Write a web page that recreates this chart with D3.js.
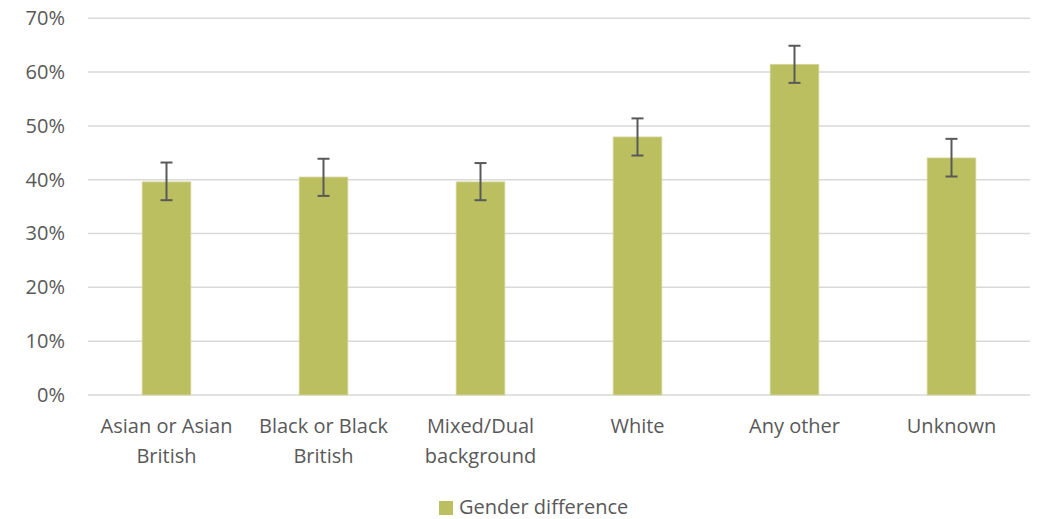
<!DOCTYPE html>
<html>
<head>
<meta charset="utf-8">
<script src="https://cdn.jsdelivr.net/npm/d3@7"></script>
<style>
  html, body { margin: 0; padding: 0; background: #fff; }
  svg { display: block; }
  text { font-family: "Open Sans", "Noto Sans", sans-serif; fill: #595959; }
</style>
</head>
<body>
<svg id="chart" width="1040" height="519"></svg>
<script>
const categories = [["Asian or Asian", "British"], ["Black or Black", "British"], ["Mixed/Dual", "background"], ["White"], ["Any other"], ["Unknown"]];
const values = [39.6, 40.5, 39.6, 47.95, 61.45, 44.05];
const errLow = [36.2, 37.0, 36.2, 44.5, 58.0, 40.6];
const errHigh = [43.2, 43.9, 43.1, 51.4, 64.9, 47.6];
const yTicks = [0, 10, 20, 30, 40, 50, 60, 70];
const seriesName = "Gender difference";

const svg = d3.select("#chart");
const x0 = 88, x1 = 1030;
const yBottom = 395, yTop = 18.3;
const FS = 20;

const idx = d3.range(values.length);
const x = d3.scaleBand().domain(idx).range([x0, x1]).paddingInner(0.69).paddingOuter(0.345);
const y = d3.scaleLinear().domain([0, 70]).range([yBottom, yTop]);

// gridlines
svg.append("g").selectAll("line").data(yTicks).join("line")
  .attr("x1", x0).attr("x2", x1)
  .attr("y1", d => y(d)).attr("y2", d => y(d))
  .attr("stroke", "#d9d9d9").attr("stroke-width", 1.5);

// y labels
const yAxis = d3.axisLeft(y).tickValues(yTicks).tickFormat(d => d + "%").tickSize(0).tickPadding(0);
const ga = svg.append("g").attr("transform", `translate(65,0)`).call(yAxis);
ga.select(".domain").remove();
ga.selectAll("text").attr("font-size", FS).attr("fill", "#595959")
  .style("font-family", '"Open Sans", "Noto Sans", sans-serif');

// bars
svg.append("g").selectAll("rect").data(idx).join("rect")
  .attr("x", i => x(i)).attr("width", x.bandwidth())
  .attr("y", i => y(values[i])).attr("height", i => y(0) - y(values[i]))
  .attr("fill", "#bbbf60").attr("stroke", "#d4d79a").attr("stroke-width", 0.8);

// error bars
const eg = svg.append("g").attr("stroke", "#595959").attr("stroke-width", 2);
idx.forEach(i => {
  const cx = x(i) + x.bandwidth() / 2;
  eg.append("line").attr("x1", cx).attr("x2", cx).attr("y1", y(errLow[i])).attr("y2", y(errHigh[i]));
  eg.append("line").attr("x1", cx - 6).attr("x2", cx + 6).attr("y1", y(errLow[i])).attr("y2", y(errLow[i]));
  eg.append("line").attr("x1", cx - 6).attr("x2", cx + 6).attr("y1", y(errHigh[i])).attr("y2", y(errHigh[i]));
});

// category labels
const lg = svg.append("g");
idx.forEach(i => {
  const cx = x(i) + x.bandwidth() / 2;
  const t = lg.append("text").attr("text-anchor", "middle").attr("font-size", FS);
  categories[i].forEach((line, k) => {
    t.append("tspan").attr("x", cx).attr("y", 433 + k * 30).text(line);
  });
});

// legend
svg.append("rect").attr("x", 439).attr("y", 501).attr("width", 14).attr("height", 14).attr("fill", "#bbbf60");
svg.append("text").attr("x", 459).attr("y", 514).attr("font-size", FS).text(seriesName);
</script>
</body>
</html>
